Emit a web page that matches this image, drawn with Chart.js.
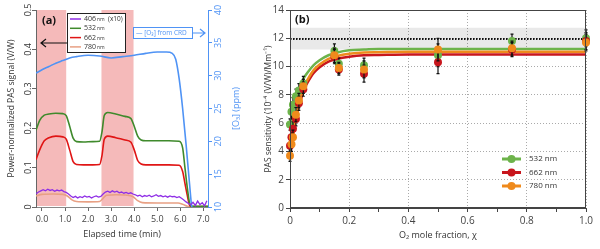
<!DOCTYPE html>
<html>
<head>
<meta charset="utf-8">
<script src="https://cdn.jsdelivr.net/npm/chart.js@4.4.0/dist/chart.umd.min.js"></script>
<style>
    html, body { margin: 0; padding: 0; background: #fff; }
    #wrapA { position: absolute; left: 0; top: 0; width: 250px; height: 249px; }
    #wrapB { position: absolute; left: 252px; top: 0; width: 348px; height: 249px; }
</style>
</head>
<body>
<div id="wrapA"><canvas id="chartA"></canvas></div>
<div id="wrapB"><canvas id="chartB"></canvas></div>
<script>
// ---- panel (a): time series ----
const timeTicks = [0, 1, 2, 3, 4, 5, 6, 7];
const signalTicks = [0, 0.1, 0.2, 0.3, 0.4, 0.5];
const o3Ticks = [10, 15, 20, 25, 30, 35, 40];
const shadeStart = [-0.26, 2.58];
const shadeEnd = [1.05, 3.97];

const t532 = [-0.26, -0.1, 0.1, 0.3, 0.6, 0.9, 1.05, 1.2, 1.35, 1.5, 1.8, 2.2, 2.5, 2.6, 2.7, 2.85, 3.2, 3.6, 3.85, 4.0, 4.15, 4.3, 4.5, 5.0, 5.5, 5.95, 6.1, 6.2, 6.3, 6.4, 6.5, 7.2];
const v532 = [0.195, 0.22, 0.233, 0.236, 0.238, 0.237, 0.232, 0.205, 0.175, 0.166, 0.165, 0.166, 0.167, 0.19, 0.232, 0.24, 0.236, 0.23, 0.225, 0.205, 0.18, 0.17, 0.168, 0.168, 0.168, 0.167, 0.15, 0.1, 0.05, 0.01, 0.002, 0.002];
const v662 = [0.12, 0.145, 0.168, 0.176, 0.18, 0.178, 0.172, 0.145, 0.115, 0.108, 0.107, 0.107, 0.108, 0.13, 0.172, 0.18, 0.176, 0.17, 0.165, 0.145, 0.118, 0.109, 0.107, 0.107, 0.107, 0.106, 0.09, 0.06, 0.03, 0.005, 0.001, 0.001];

const t780 = [-0.26, 0, 0.5, 0.9, 1.1, 1.3, 1.5, 2.0, 2.5, 2.65, 2.8, 3.2, 3.7, 3.95, 4.15, 4.35, 5.0, 5.9, 6.1, 6.3, 6.45, 7.2];
const v780 = [0.028, 0.032, 0.033, 0.032, 0.028, 0.018, 0.014, 0.013, 0.014, 0.022, 0.03, 0.031, 0.03, 0.026, 0.016, 0.011, 0.01, 0.01, 0.007, 0.002, 0.0, 0.0];

const t406 = [-0.25, -0.15, -0.05, 0.05, 0.15, 0.25, 0.35, 0.45, 0.55, 0.65, 0.75, 0.85, 0.95, 1.05, 1.15, 1.25, 1.35, 1.45, 1.55, 1.65, 1.75, 1.85, 1.95, 2.05, 2.15, 2.25, 2.35, 2.45, 2.55, 2.65, 2.75, 2.85, 2.95, 3.05, 3.15, 3.25, 3.35, 3.45, 3.55, 3.65, 3.75, 3.85, 3.95, 4.05, 4.15, 4.25, 4.35, 4.45, 4.55, 4.65, 4.75, 4.85, 4.95, 5.05, 5.15, 5.25, 5.35, 5.45, 5.55, 5.65, 5.75, 5.85, 5.95, 6.05, 6.15, 6.25, 6.35, 6.45, 6.55, 6.65, 6.75, 6.85, 6.95, 7.05, 7.15];
const v406 = [0.034, 0.038, 0.041, 0.044, 0.041, 0.045, 0.042, 0.044, 0.040, 0.043, 0.041, 0.043, 0.039, 0.037, 0.033, 0.028, 0.024, 0.027, 0.023, 0.026, 0.024, 0.028, 0.025, 0.027, 0.023, 0.026, 0.028, 0.025, 0.027, 0.033, 0.038, 0.040, 0.037, 0.041, 0.038, 0.040, 0.036, 0.038, 0.035, 0.037, 0.034, 0.036, 0.033, 0.031, 0.028, 0.030, 0.026, 0.029, 0.027, 0.030, 0.026, 0.028, 0.031, 0.027, 0.029, 0.026, 0.028, 0.025, 0.028, 0.026, 0.027, 0.024, 0.026, 0.022, 0.018, 0.013, 0.009, 0.006, 0.012, 0.004, 0.015, 0.006, 0.011, 0.003, 0.016];

const tO3 = [-0.26, 0, 0.3, 0.6, 0.9, 1.2, 1.5, 2.0, 2.5, 3.0, 3.5, 4.0, 4.5, 5.0, 5.4, 5.65, 5.8, 5.95, 6.1, 6.25, 6.4, 6.5, 6.6, 7.2];
const vO3 = [30.4, 30.9, 31.4, 31.9, 32.3, 32.7, 32.9, 33.1, 33.0, 32.7, 32.9, 33.1, 33.4, 33.6, 33.6, 33.4, 32.5, 29.5, 25.0, 19.5, 13.5, 10.0, 9.5, 9.5];

const legendAWave = ['406', '532', '662', '780'];
const colA = { c406: '#8f2ee6', c532: '#3f8a2c', c662: '#e01515', c780: '#e8a084', o3: '#4f93f5' };

// ---- panel (b): sensitivity vs O2 ----
const chiTicks = [0, 0.1, 0.2, 0.3, 0.4, 0.5, 0.6, 0.7, 0.8, 0.9, 1.0];
const chi = [0, 0.005, 0.01, 0.02, 0.03, 0.045, 0.15, 0.165, 0.25, 0.5, 0.75, 1.0];
const s532 = [5.9, 6.8, 7.3, 7.9, 8.3, 8.8, 11.1, 10.2, 10.1, 10.8, 11.8, 12.0];
const s662 = [4.4, 5.0, 5.6, 6.3, 7.4, 8.4, 10.7, 9.8, 9.5, 10.3, 11.2, 11.8];
const s780 = [3.7, 4.5, 5.0, 6.6, 7.6, 8.6, 10.8, 9.9, 9.8, 11.2, 11.3, 11.7];
const e532 = [0.4, 0.5, 0.5, 0.5, 0.5, 0.5, 0.5, 0.4, 0.5, 0.8, 0.5, 0.6];
const e662 = [0.5, 0.5, 0.5, 0.5, 0.5, 0.5, 0.5, 0.4, 0.6, 0.8, 0.5, 0.6];
const e780 = [0.4, 0.5, 0.5, 0.5, 0.5, 0.5, 0.5, 0.4, 0.6, 0.8, 0.5, 0.6];

const fitChi = [0, 0.005, 0.01, 0.02, 0.03, 0.04, 0.05, 0.06, 0.08, 0.1, 0.13, 0.16, 0.2, 0.25, 0.3, 0.4, 0.5, 0.75, 1.0];
const fit532 = [5.6, 6.3, 6.9, 7.8, 8.4, 8.9, 9.3, 9.6, 10.1, 10.45, 10.8, 11.0, 11.15, 11.2, 11.25, 11.25, 11.25, 11.25, 11.25];
const fit662 = [3.6, 4.4, 5.1, 6.3, 7.2, 7.9, 8.5, 8.9, 9.55, 9.95, 10.35, 10.55, 10.7, 10.8, 10.82, 10.85, 10.85, 10.85, 10.85];
const fit780 = [3.7, 4.5, 5.2, 6.4, 7.4, 8.1, 8.7, 9.1, 9.75, 10.15, 10.55, 10.75, 10.9, 11.0, 11.02, 11.05, 11.05, 11.05, 11.05];

const refChi = [0, 1];
const refLevel = [11.95, 11.95];
const bandHi = [12.75, 12.75];
const bandLo = [11.2, 11.2];

const legendBWave = ['532', '662', '780'];
const colB = { c532: '#6db34b', c662: '#c8161d', c780: '#ef8a1c' };

Chart.defaults.font.family = "'Open Sans', sans-serif";
Chart.defaults.color = '#444';

function pts(xs, ys) {
    return xs.map((x, i) => ({ x: x, y: ys[i] }));
}

function lineSet(label, xs, ys, color, axis, width, smooth) {
    return {
        label: label,
        data: pts(xs, ys),
        borderColor: color,
        borderWidth: width,
        pointRadius: 0,
        fill: false,
        yAxisID: axis,
        cubicInterpolationMode: smooth ? 'monotone' : 'default',
        tension: 0
    };
}

function arrow(ctx, x0, y, x1, color) {
    const dir = x1 > x0 ? 1 : -1;
    ctx.strokeStyle = color;
    ctx.lineWidth = 1.2;
    ctx.beginPath();
    ctx.moveTo(x0, y);
    ctx.lineTo(x1, y);
    ctx.moveTo(x1 - dir * 5, y - 4);
    ctx.lineTo(x1, y);
    ctx.lineTo(x1 - dir * 5, y + 4);
    ctx.stroke();
}

// rotated tick labels (read bottom to top) for the vertical axes of panel (a)
function rotatedTicks(ctx, scale, values, cx, color, fmt) {
    values.forEach(v => {
        const py = scale.getPixelForValue(v);
        ctx.save();
        ctx.fillStyle = color;
        ctx.font = "9px 'Open Sans', sans-serif";
        ctx.textAlign = 'center';
        ctx.textBaseline = 'middle';
        ctx.translate(cx, py);
        ctx.rotate(-Math.PI / 2);
        ctx.fillText(fmt(v), 0, 0);
        ctx.restore();
    });
}

const panelAExtras = {
    id: 'panelAExtras',
    beforeDatasetsDraw(chart) {
        const { ctx, chartArea, scales } = chart;
        ctx.save();
        ctx.fillStyle = 'rgba(238, 140, 140, 0.6)';
        shadeStart.forEach((s, i) => {
            const x0 = Math.max(scales.x.getPixelForValue(s), chartArea.left + 1);
            const x1 = scales.x.getPixelForValue(shadeEnd[i]);
            ctx.fillRect(x0, chartArea.top, x1 - x0, chartArea.bottom - chartArea.top - 1);
        });
        ctx.restore();
    },
    afterDraw(chart) {
        const { ctx, chartArea, scales } = chart;
        const L = chartArea.left, T = chartArea.top;

        rotatedTicks(ctx, scales.yO3, o3Ticks, scales.yO3.left + 10, colA.o3, v => String(v));
        rotatedTicks(ctx, scales.y, signalTicks, scales.y.right - 8, '#333', v => (v === 0 ? '0' : v.toFixed(1)));

        ctx.save();

        // (a) label
        ctx.fillStyle = '#111';
        ctx.font = "bold 11px 'Open Sans', sans-serif";
        ctx.textBaseline = 'middle';
        ctx.fillText('(a)', L + 6, T + 11);

        // legend box
        const bx = L + 31, by = T + 3, bw = 58, bh = 39;
        ctx.fillStyle = '#fff';
        ctx.fillRect(bx, by, bw, bh);
        ctx.strokeStyle = '#222';
        ctx.lineWidth = 1;
        ctx.strokeRect(bx + 0.5, by + 0.5, bw, bh);
        const cols = [colA.c406, colA.c532, colA.c662, colA.c780];
        legendAWave.forEach((w, i) => {
            const y = by + 6 + i * 9.3;
            ctx.strokeStyle = cols[i];
            ctx.lineWidth = 1.5;
            ctx.beginPath();
            ctx.moveTo(bx + 3, y);
            ctx.lineTo(bx + 14, y);
            ctx.stroke();
            ctx.fillStyle = '#333';
            ctx.font = "7px 'Open Sans', sans-serif";
            ctx.fillText(w, bx + 17, y);
            ctx.font = "5px 'Open Sans', sans-serif";
            ctx.fillText('nm', bx + 30, y + 0.5);
            if (i === 0) {
                ctx.font = "6.5px 'Open Sans', sans-serif";
                ctx.fillText('(x10)', bx + 41, y);
            }
        });

        // arrow to left axis
        arrow(ctx, bx, T + 33, L + 5, '#111');

        // O3 box and arrow to right axis
        ctx.strokeStyle = colA.o3;
        ctx.lineWidth = 1;
        ctx.strokeRect(L + 97.5, T + 17.5, 59, 11);
        ctx.fillStyle = colA.o3;
        ctx.font = "6.5px 'Open Sans', sans-serif";
        ctx.fillText('\u2014 [O\u2083] from CRD', L + 100, T + 23.5);
        arrow(ctx, L + 157, T + 23, chartArea.right - 3, colA.o3);

        // right axis title
        const cy = (chartArea.top + chartArea.bottom) / 2;
        ctx.translate(chartArea.right + 28, cy);
        ctx.rotate(-Math.PI / 2);
        ctx.textAlign = 'center';
        ctx.font = "9px 'Open Sans', sans-serif";
        ctx.fillText('[O\u2083] (ppm)', 0, 0);
        ctx.restore();
    }
};

new Chart(document.getElementById('chartA'), {
    type: 'line',
    data: {
        datasets: [
            lineSet('406 nm (x10)', t406, v406, colA.c406, 'y', 1.3, false),
            lineSet('[O3] from CRD', tO3, vO3, colA.o3, 'yO3', 1.6, true),
            lineSet('532 nm', t532, v532, colA.c532, 'y', 1.6, true),
            lineSet('662 nm', t532, v662, colA.c662, 'y', 1.6, true),
            lineSet('780 nm', t780, v780, colA.c780, 'y', 1.6, true)
        ]
    },
    options: {
        responsive: true,
        maintainAspectRatio: false,
        animation: false,
        layout: { padding: { top: 10, left: 0, right: 0, bottom: 0 } },
        plugins: { legend: { display: false }, tooltip: { enabled: false } },
        scales: {
            x: {
                type: 'linear',
                min: -0.26,
                max: 7.2,
                afterBuildTicks: s => { s.ticks = timeTicks.map(v => ({ value: v })); },
                afterFit: s => { s.height = 42; },
                grid: { drawOnChartArea: false, tickLength: 4, color: '#666' },
                border: { color: '#888' },
                ticks: { font: { size: 9 }, color: '#444', padding: 3, maxRotation: 0, callback: v => v.toFixed(1) },
                title: { display: true, text: 'Elapsed time (min)', font: { size: 9 }, color: '#333', padding: { top: 0, bottom: 9 } }
            },
            y: {
                position: 'left',
                min: 0,
                max: 0.5,
                afterBuildTicks: s => { s.ticks = signalTicks.map(v => ({ value: v })); },
                afterFit: s => { s.width = 36; },
                grid: { drawOnChartArea: false, tickLength: 4, color: '#666' },
                border: { color: '#666' },
                ticks: { color: 'rgba(0,0,0,0)', font: { size: 9 } },
                title: { display: true, text: 'Power-normalized PAS signal (V/W)', font: { size: 8.5 }, color: '#333', padding: { top: 6, bottom: 0 } }
            },
            yO3: {
                position: 'right',
                min: 10,
                max: 40,
                afterBuildTicks: s => { s.ticks = o3Ticks.map(v => ({ value: v })); },
                afterFit: s => { s.width = 42; },
                grid: { drawOnChartArea: false, tickLength: 4, color: colA.o3 },
                border: { color: colA.o3 },
                ticks: { color: 'rgba(0,0,0,0)', font: { size: 9 } }
            }
        }
    },
    plugins: [panelAExtras]
});

// ---- panel (b) ----
function pointSet(label, ys, errs, color) {
    return {
        label: label,
        type: 'scatter',
        data: pts(chi, ys),
        errors: errs,
        backgroundColor: color,
        borderWidth: 0,
        pointRadius: 4,
        showLine: false,
        clip: 8
    };
}

const errorBars = {
    id: 'errorBars',
    beforeDatasetDraw(chart, args) {
        const ds = chart.data.datasets[args.index];
        if (!ds.errors) return;
        const { ctx, scales } = chart;
        ctx.save();
        ctx.strokeStyle = '#111';
        ctx.lineWidth = 1.2;
        ds.data.forEach((p, i) => {
            const px = scales.x.getPixelForValue(p.x);
            const y0 = scales.y.getPixelForValue(p.y - ds.errors[i]);
            const y1 = scales.y.getPixelForValue(p.y + ds.errors[i]);
            ctx.beginPath();
            ctx.moveTo(px, y0);
            ctx.lineTo(px, y1);
            ctx.moveTo(px - 1.5, y0);
            ctx.lineTo(px + 1.5, y0);
            ctx.moveTo(px - 1.5, y1);
            ctx.lineTo(px + 1.5, y1);
            ctx.stroke();
        });
        ctx.restore();
    }
};

const panelBExtras = {
    id: 'panelBExtras',
    afterDraw(chart) {
        const { ctx, chartArea } = chart;
        ctx.save();
        ctx.strokeStyle = '#444';
        ctx.lineWidth = 1;
        ctx.strokeRect(chartArea.left + 0.5, chartArea.top + 0.5, chartArea.right - chartArea.left - 1, chartArea.bottom - chartArea.top - 1);

        ctx.fillStyle = '#111';
        ctx.font = "bold 11px 'Open Sans', sans-serif";
        ctx.textBaseline = 'middle';
        ctx.fillText('(b)', chartArea.left + 5, chartArea.top + 10);

        const cols = [colB.c532, colB.c662, colB.c780];
        legendBWave.forEach((w, i) => {
            const y = chartArea.top + 149 + i * 13.5;
            const x0 = chartArea.right - 84;
            ctx.strokeStyle = cols[i];
            ctx.lineWidth = 3;
            ctx.beginPath();
            ctx.moveTo(x0, y);
            ctx.lineTo(x0 + 19, y);
            ctx.stroke();
            ctx.fillStyle = cols[i];
            ctx.beginPath();
            ctx.arc(x0 + 9.5, y, 4, 0, Math.PI * 2);
            ctx.fill();
            ctx.fillStyle = '#333';
            ctx.font = "8px 'Open Sans', sans-serif";
            ctx.fillText(w + ' nm', x0 + 27, y);
        });
        ctx.restore();
    }
};

new Chart(document.getElementById('chartB'), {
    type: 'line',
    data: {
        datasets: [
            pointSet('780 nm', s780, e780, colB.c780),
            pointSet('662 nm', s662, e662, colB.c662),
            pointSet('532 nm', s532, e532, colB.c532),
            lineSet('fit 780', fitChi, fit780, colB.c780, 'y', 2.5, true),
            lineSet('fit 662', fitChi, fit662, colB.c662, 'y', 2.5, true),
            lineSet('fit 532', fitChi, fit532, colB.c532, 'y', 2.5, true),
            Object.assign(lineSet('reference', refChi, refLevel, '#111', 'y', 2, false), { borderDash: [1.5, 1.5] }),
            Object.assign(lineSet('band high', refChi, bandHi, 'rgba(0,0,0,0)', 'y', 0, false), { fill: '+1', backgroundColor: 'rgba(0,0,0,0.085)' }),
            lineSet('band low', refChi, bandLo, 'rgba(0,0,0,0)', 'y', 0, false)
        ]
    },
    options: {
        responsive: true,
        maintainAspectRatio: false,
        animation: false,
        layout: { padding: { top: 10, left: 0, right: 14, bottom: 0 } },
        plugins: { legend: { display: false }, tooltip: { enabled: false } },
        scales: {
            x: {
                type: 'linear',
                min: 0,
                max: 1,
                afterBuildTicks: s => { s.ticks = chiTicks.map(v => ({ value: v })); },
                afterFit: s => { s.height = 41; },
                grid: {
                    color: c => (Math.round(c.tick.value * 10) % 2 === 0 ? '#aaa' : 'rgba(0,0,0,0)'),
                    tickColor: '#444',
                    tickLength: 4
                },
                border: { color: '#444', dash: [1, 2] },
                ticks: {
                    font: { size: 10 }, color: '#444', padding: 3, maxRotation: 0,
                    callback: v => (Math.round(v * 10) % 2 === 0 ? (v === 0 ? '0' : v.toFixed(1)) : '')
                },
                title: { display: true, text: 'O\u2082 mole fraction, \u03c7', font: { size: 9 }, color: '#333', padding: { top: 0, bottom: 8 } }
            },
            y: {
                min: 0,
                max: 14,
                afterFit: s => { s.width = 38; },
                grid: { color: '#aaa', tickColor: '#444', tickLength: 4 },
                border: { color: '#444', dash: [1, 2] },
                ticks: { stepSize: 2, font: { size: 10 }, color: '#444', padding: 2 },
                title: { display: true, text: 'PAS sensitivity (10\u207b\u2074 (V/W)/Mm\u207b\u00b9)', font: { size: 8.5 }, color: '#333', padding: { top: 11, bottom: 0 } }
            }
        }
    },
    plugins: [errorBars, panelBExtras]
});
</script>
</body>
</html>
